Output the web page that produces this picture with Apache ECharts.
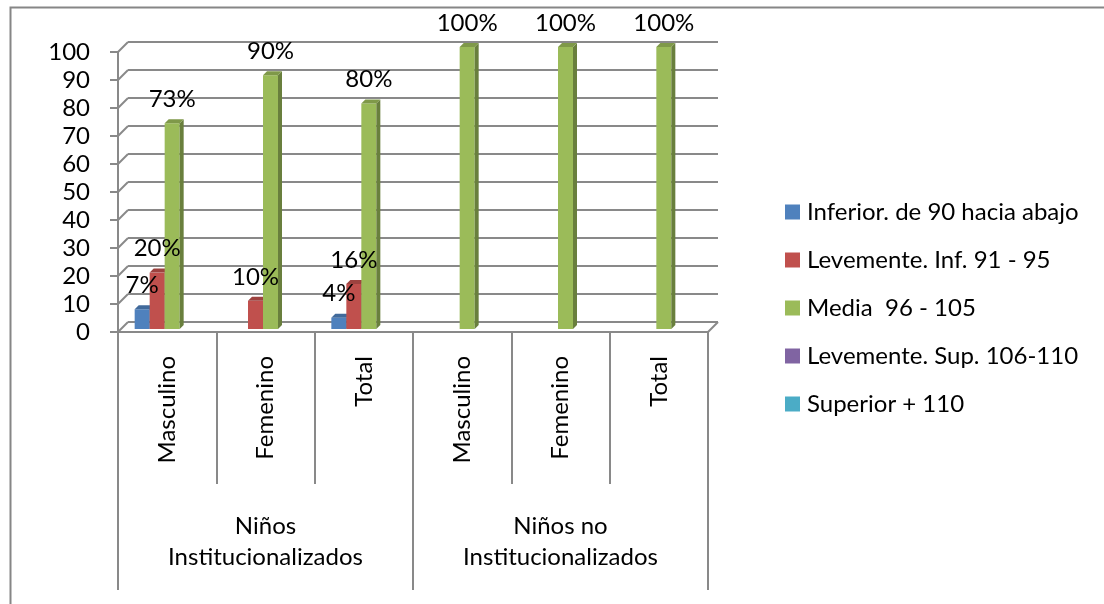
<!DOCTYPE html>
<html>
<head>
<meta charset="utf-8">
<script src="https://cdn.jsdelivr.net/npm/echarts@6/dist/echarts.min.js"></script>
<style>
  html, body { margin: 0; padding: 0; background: #fff; }
  #chart { width: 1104px; height: 604px; }
</style>
</head>
<body>
<div id="chart"></div>
<script>
const categories = ['Masculino', 'Femenino', 'Total', 'Masculino', 'Femenino', 'Total'];
const groups = ['Niños\nInstitucionalizados', 'Niños no\nInstitucionalizados'];
const seriesNames = [
  'Inferior. de 90 hacia abajo',
  'Levemente. Inf. 91 - 95',
  'Media  96 - 105',
  'Levemente. Sup. 106-110',
  'Superior + 110'
];
const inferior = [7, 0, 4, 0, 0, 0];
const levementeInf = [20, 10, 16, 0, 0, 0];
const media = [73, 90, 80, 100, 100, 100];
const levementeSup = [0, 0, 0, 0, 0, 0];
const superior = [0, 0, 0, 0, 0, 0];
const yTicks = [0, 10, 20, 30, 40, 50, 60, 70, 80, 90, 100];

const colors = ['#4F81BD', '#C0504D', '#9BBB59', '#8064A2', '#4BACC6'];
const FONT = 'Lato';
const FS = 24;
const GRAY = '#898989';
const DEPTH = 10;   // perspective offset of the back wall
const BAR_W = 15;
const BAR_D = 4;    // bar depth

function shade(hex, f) {
  const n = parseInt(hex.slice(1), 16);
  const r = Math.round(((n >> 16) & 255) * f);
  const g = Math.round(((n >> 8) & 255) * f);
  const b = Math.round((n & 255) * f);
  return 'rgb(' + r + ',' + g + ',' + b + ')';
}

const chart = echarts.init(document.getElementById('chart'));

function barSeries(name, values, idx) {
  const color = colors[idx];
  return {
    name: name,
    type: 'custom',
    xAxisIndex: 2,
    yAxisIndex: 2,
    itemStyle: { color: color },
    data: values.map((v, i) => [i, v]),
    encode: { x: 0, y: 1 },
    renderItem: function (params, api) {
      const v = api.value(1);
      if (!v) return null;
      const base = api.coord([api.value(0), 0]);
      const top = api.coord([api.value(0), v])[1];
      const x0 = base[0] - (BAR_W * seriesNames.length) / 2 + idx * BAR_W;
      const x1 = x0 + BAR_W;
      const y0 = base[1];
      return {
        type: 'group',
        children: [
          { type: 'rect', shape: { x: x0, y: top, width: BAR_W, height: y0 - top },
            style: { fill: color } },
          { type: 'polygon', shape: { points: [[x1, top], [x1 + BAR_D, top - BAR_D], [x1 + BAR_D, y0 - BAR_D], [x1, y0]] },
            style: { fill: shade(color, 0.68) } },
          { type: 'polygon', shape: { points: [[x0, top], [x0 + BAR_D, top - BAR_D], [x1 + BAR_D, top - BAR_D], [x1, top]] },
            style: { fill: shade(color, 0.82) } },
          { type: 'text', z2: 100, style: { text: v + '%', x: x0 + BAR_W / 2, y: top - 12,
            align: 'center', verticalAlign: 'bottom', fill: '#000', font: FS + 'px ' + FONT } }
        ]
      };
    }
  };
}

const option = {
  animation: false,
  backgroundColor: '#fff',
  graphic: [{
    type: 'rect', left: 8, top: 5, z: -1,
    shape: { width: 1200, height: 700 },
    style: { fill: 'none', stroke: '#868686', lineWidth: 2 }
  }],
  legend: {
    orient: 'vertical',
    left: 780,
    top: 195,
    itemWidth: 15,
    itemHeight: 15,
    itemGap: 24,
    icon: 'rect',
    data: seriesNames,
    textStyle: { fontFamily: FONT, fontSize: FS, color: '#000', padding: [0, 0, 0, 2] }
  },
  grid: [
    { left: 118, top: 52, width: 590, height: 280 },                 // front
    { left: 118 + DEPTH, top: 52 - DEPTH, width: 590, height: 280 }, // back wall
    { left: 123, top: 47, width: 590, height: 282 }                  // bars
  ],
  xAxis: [
    {
      gridIndex: 0, type: 'category', data: categories, position: 'bottom',
      axisLine: { show: true, lineStyle: { color: GRAY, width: 2 } },
      axisTick: { show: true, alignWithLabel: false, interval: 0, length: 152,
        lineStyle: { color: GRAY, width: 2 } },
      axisLabel: { interval: 0, rotate: 90, margin: 24, color: '#000', fontFamily: FONT, fontSize: FS },
      splitLine: { show: false }
    },
    { gridIndex: 1, type: 'category', data: categories, show: false },
    { gridIndex: 2, type: 'category', data: categories, show: false },
    {
      gridIndex: 0, type: 'category', data: groups, position: 'bottom',
      axisLine: { show: false },
      axisTick: { show: true, alignWithLabel: false, interval: 0, length: 258,
        lineStyle: { color: GRAY, width: 2 } },
      axisLabel: { interval: 0, margin: 179, color: '#000', fontFamily: FONT, fontSize: FS,
        lineHeight: 31, verticalAlign: 'top' },
      splitLine: { show: false }
    }
  ],
  yAxis: [
    {
      gridIndex: 0, type: 'value', min: 0, max: 100, interval: 10,
      axisLine: { show: true, lineStyle: { color: GRAY, width: 2 } },
      axisTick: { show: true, length: 8, lineStyle: { color: GRAY, width: 2 } },
      axisLabel: { margin: 28, color: '#000', fontFamily: FONT, fontSize: FS },
      splitLine: { show: false }
    },
    {
      gridIndex: 1, type: 'value', min: 0, max: 100, interval: 10,
      axisLine: { show: false }, axisTick: { show: false }, axisLabel: { show: false },
      splitLine: { show: true, lineStyle: { color: GRAY, width: 2 } }
    },
    { gridIndex: 2, type: 'value', min: 0, max: 100, interval: 10, show: false }
  ],
  series: [
    {
      // slanted connectors between the front axis and the back wall
      type: 'custom',
      xAxisIndex: 1,
      yAxisIndex: 1,
      silent: true,
      legendHoverLink: false,
      data: yTicks.map(v => [0, v]),
      encode: { x: 0, y: 1 },
      renderItem: function (params, api) {
        const cs = params.coordSys;
        const y = api.coord([0, api.value(1)])[1];
        const lines = [{
          type: 'line',
          shape: { x1: cs.x - DEPTH, y1: y + DEPTH, x2: cs.x, y2: y },
          style: { stroke: GRAY, lineWidth: 2 }
        }];
        if (api.value(1) === 0) {
          lines.push({
            type: 'line',
            shape: { x1: cs.x + cs.width - DEPTH, y1: y + DEPTH, x2: cs.x + cs.width, y2: y },
            style: { stroke: GRAY, lineWidth: 2 }
          });
        }
        return { type: 'group', children: lines };
      }
    },
    barSeries(seriesNames[0], inferior, 0),
    barSeries(seriesNames[1], levementeInf, 1),
    barSeries(seriesNames[2], media, 2),
    barSeries(seriesNames[3], levementeSup, 3),
    barSeries(seriesNames[4], superior, 4)
  ]
};

chart.setOption(option);
</script>
</body>
</html>
